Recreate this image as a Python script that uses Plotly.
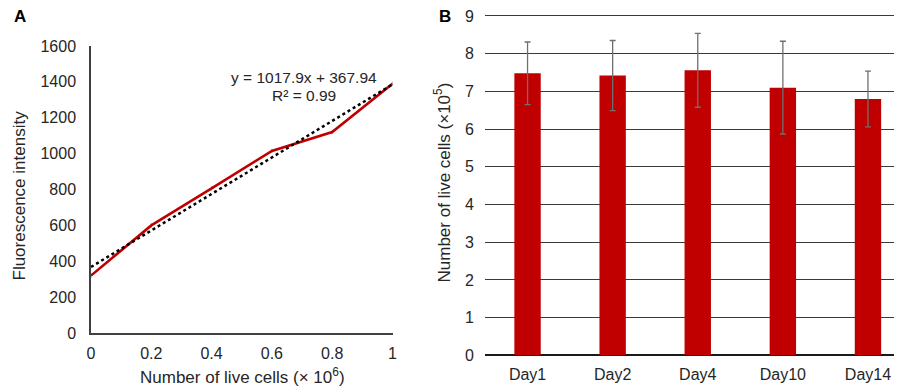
import plotly.graph_objects as go

# Panel A data
cells_a = [0, 0.2, 0.4, 0.6, 0.8, 1.0]
fluor_a = [320, 600, 806, 1015, 1120, 1390]
fluor_err = [12, 12, 12, 12, 12, 12]
trend_slope = 1017.9
trend_intercept = 367.94
trend_x = [0, 1]
a_xticks = [0, 0.2, 0.4, 0.6, 0.8, 1]
a_xtext = ["0", "0.2", "0.4", "0.6", "0.8", "1"]

# Panel B data
days = ["Day1", "Day2", "Day4", "Day10", "Day14"]
live_cells = [7.48, 7.42, 7.56, 7.10, 6.80]
live_err = [0.83, 0.93, 0.98, 1.23, 0.74]
b_yticks = [0, 1, 2, 3, 4, 5, 6, 7, 8, 9]

# page body has an 8px margin: figure sits at (8, 8) in the window
OFF = 8
W, H = 902 - OFF, 389 - OFF
RED = "#C00000"
FONT = "Liberation Sans, Arial, sans-serif"
TXT = "#262626"

fig = go.Figure()

fig.add_trace(go.Scatter(
    x=cells_a, y=fluor_a, mode="lines",
    line=dict(color=RED, width=2.6),
    error_y=dict(type="data", array=fluor_err, color="#8c8c8c", thickness=1, width=0),
    xaxis="x", yaxis="y", showlegend=False))

fig.add_trace(go.Scatter(
    x=trend_x, y=[trend_slope * v + trend_intercept for v in trend_x], mode="lines",
    line=dict(color="black", width=2.5, dash="dot"),
    xaxis="x", yaxis="y", showlegend=False))

fig.add_trace(go.Bar(
    x=days, y=live_cells, marker=dict(color=RED, line=dict(width=0)),
    width=0.31,
    error_y=dict(type="data", array=live_err, color="#6f6f6f", thickness=1.3, width=3),
    xaxis="x2", yaxis="y2", showlegend=False))

def fx(px):
    return (px - OFF) / W

def fy(px):
    return (H - (px - OFF)) / H

tick_font = dict(family=FONT, size=16, color=TXT)
title_font = dict(family=FONT, size=17, color=TXT)

def note(text, x, y, size=17, angle=0, color=TXT):
    return dict(text=text, x=fx(x), y=fy(y), xref="paper", yref="paper", showarrow=False,
                xanchor="center", yanchor="middle", textangle=angle,
                font=dict(family=FONT, size=size, color=color))

# panel B: 0 at y=355.3 px, 9 at y=16 px; extend the range slightly so the top grid line is kept
b_top_val = 9.06
b_unit = (355.3 - 16) / 9
b_top_px = 355.3 - b_top_val * b_unit

fig.update_layout(
    width=W, height=H,
    margin=dict(l=0, r=0, t=0, b=0, autoexpand=False),
    paper_bgcolor="white", plot_bgcolor="white",
    font=dict(family=FONT, size=16, color=TXT),
    xaxis=dict(domain=[fx(91), fx(392.5)], range=[0, 1], tickvals=a_xticks, ticktext=a_xtext,
               showgrid=False, zeroline=False, showline=True, linecolor="#404040", linewidth=1.5,
               ticks="", tickfont=tick_font, ticklabelstandoff=5, automargin=False,
               ticklabeloverflow="allow"),
    yaxis=dict(domain=[fy(333), fy(46)], range=[0, 1600], dtick=200,
               showgrid=False, zeroline=False, showline=True, linecolor="#404040", linewidth=1.5,
               ticks="", tickfont=tick_font, ticklabelstandoff=10, automargin=False,
               ticklabeloverflow="allow"),
    xaxis2=dict(domain=[fx(485), 1.0], range=[-0.5, 4.4], anchor="y2",
                showgrid=False, zeroline=False, showline=False, ticks="",
                tickfont=tick_font, ticklabelstandoff=8, automargin=False,
                ticklabeloverflow="allow"),
    yaxis2=dict(domain=[fy(355.3), fy(b_top_px)], range=[0, b_top_val], tickvals=b_yticks,
                anchor="x2",
                showgrid=True, gridcolor="#3a3a3a", gridwidth=1.2,
                zeroline=True, zerolinecolor="#1a1a1a", zerolinewidth=1.6,
                showline=False, ticks="", tickfont=tick_font, ticklabelstandoff=10,
                automargin=False, ticklabeloverflow="allow"),
    annotations=[
        note("<b>A</b>", 20, 16, color="black"),
        note("<b>B</b>", 444.5, 16, color="black"),
        note("y = 1017.9x + 367.94", 304, 77, size=15.5),
        note("R² = 0.99", 304, 95, size=15.5),
        note("Fluorescence intensity", 18.5, 196, angle=-90),
        note("Number of live cells (× 10<sup>6</sup>)", 242, 376),
        note("Number of live cells (×10<sup>5</sup>)", 442.5, 183, angle=-90),
    ],
)

fig.write_html("out.html")
